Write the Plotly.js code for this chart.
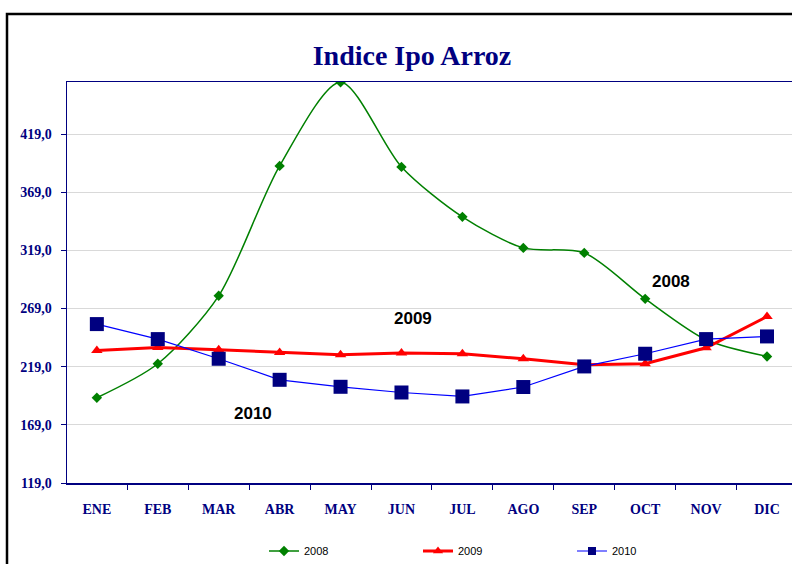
<!DOCTYPE html>
<html>
<head>
<meta charset="utf-8">
<script src="https://cdn.plot.ly/plotly-3.0.1.min.js"></script>
<style>
html,body{margin:0;padding:0;background:#fff;}
#chart{width:792px;height:564px;}
</style>
</head>
<body>
<div id="chart"></div>
<script>
var months = ["ENE","FEB","MAR","ABR","MAY","JUN","JUL","AGO","SEP","OCT","NOV","DIC"];
var v2008 = [192.3, 221.5, 279.9, 391.6, 463.5, 390.7, 347.8, 321.1, 316.8, 277.3, 242.1, 227.8];
var v2009 = [232.9, 235.5, 233.5, 231.2, 229.2, 230.7, 230.1, 225.8, 220.6, 221.5, 235.2, 262.1];
var v2010 = [255.6, 242.7, 225.8, 207.7, 201.7, 196.8, 193.4, 201.5, 219.2, 230.1, 242.7, 245.0];
var yTicks = [119, 169, 219, 269, 319, 369, 419];
var yTickText = ["119,0","169,0","219,0","269,0","319,0","369,0","419,0"];
var seriesNames = ["2008","2009","2010"];

var styles = [
  {line: {color: "#008000", width: 1.5, shape: "spline", smoothing: 0.8}, symbol: "diamond", size: 8, lsize: 8, mcolor: "#008000"},
  {line: {color: "#FF0000", width: 3}, symbol: "triangle-up", size: 10, lsize: 9, mcolor: "#FF0000"},
  {line: {color: "#0000FF", width: 1.2}, symbol: "square", size: 14, lsize: 8, mcolor: "#000080"}
];
var series = [v2008, v2009, v2010];

var traces = [];
// data traces
series.forEach(function(vals, i){
  var s = styles[i];
  traces.push({x: months, y: vals, name: seriesNames[i], type: "scatter", mode: "lines+markers",
    line: s.line, marker: {symbol: s.symbol, size: s.size, color: s.mcolor}, showlegend: false});
});
// legend entries (smaller symbols, as in the original legend)
series.forEach(function(vals, i){
  var s = styles[i];
  traces.push({x: [null], y: [null], name: seriesNames[i], type: "scatter", mode: "lines+markers",
    line: {color: s.line.color, width: s.line.width}, marker: {symbol: s.symbol, size: s.lsize, color: s.mcolor},
    showlegend: true});
});

var L = 67, R = 0, T = 82, B = 81;
var pw = 792 - L - R, ph = 564 - T - B;
function px2paperX(p){ return (p - L) / pw; }
function px2paperY(p){ return (564 - B - p) / ph; }

var tickFont = {family: "Liberation Serif, serif", size: 14, color: "#000080", weight: "bold"};
var annFont = {family: "Liberation Sans, Arial", size: 17, color: "#000"};

var layout = {
  width: 792, height: 564,
  paper_bgcolor: "#ffffff", plot_bgcolor: "#ffffff",
  margin: {l: L, r: R, t: T, b: B, pad: 0, autoexpand: false},
  title: {text: "<b>Indice Ipo Arroz</b>", x: 412/792, xanchor: "center", y: 1 - 55/564, yanchor: "middle",
          font: {family: "Liberation Serif, serif", size: 28, color: "#000080"}},
  showlegend: true,
  legend: {orientation: "h", x: px2paperX(264), xanchor: "left", y: px2paperY(551), yanchor: "middle",
           font: {family: "Liberation Sans, Arial", size: 11, color: "#000"},
           entrywidth: 109, entrywidthmode: "pixels", itemwidth: 30,
           bgcolor: "rgba(0,0,0,0)"},
  xaxis: {type: "category", range: [-0.49, 11.41], showgrid: false,
          showline: true, linecolor: "#000080", linewidth: 1.5, mirror: true,
          ticks: "outside", tickson: "boundaries", ticklen: 5, tickcolor: "#000080",
          ticklabelstandoff: 13,
          tickfont: tickFont, fixedrange: true},
  yaxis: {range: [119, 463.7], tickvals: yTicks, ticktext: yTickText,
          showgrid: true, gridcolor: "#d9d9d9", gridwidth: 1, zeroline: false,
          showline: true, linecolor: "#000080", linewidth: 1.5, mirror: true,
          ticks: "outside", ticklen: 5, tickcolor: "#000080",
          ticklabelstandoff: 6,
          tickfont: tickFont, fixedrange: true},
  annotations: [
    {xref: "paper", yref: "paper", x: px2paperX(671), y: px2paperY(281), xanchor: "center", yanchor: "middle",
     text: "<b>2008</b>", showarrow: false, font: annFont},
    {xref: "paper", yref: "paper", x: px2paperX(413), y: px2paperY(318), xanchor: "center", yanchor: "middle",
     text: "<b>2009</b>", showarrow: false, font: annFont},
    {xref: "paper", yref: "paper", x: px2paperX(253), y: px2paperY(413), xanchor: "center", yanchor: "middle",
     text: "<b>2010</b>", showarrow: false, font: annFont}
  ],
  shapes: [
    {type: "rect", xref: "paper", yref: "paper", x0: px2paperX(7), x1: px2paperX(900), y0: px2paperY(700), y1: px2paperY(14),
     line: {color: "#000", width: 2.5}, fillcolor: "rgba(0,0,0,0)", layer: "above"}
  ]
};

Plotly.newPlot("chart", traces, layout, {displayModeBar: false, staticPlot: true});
</script>
</body>
</html>
